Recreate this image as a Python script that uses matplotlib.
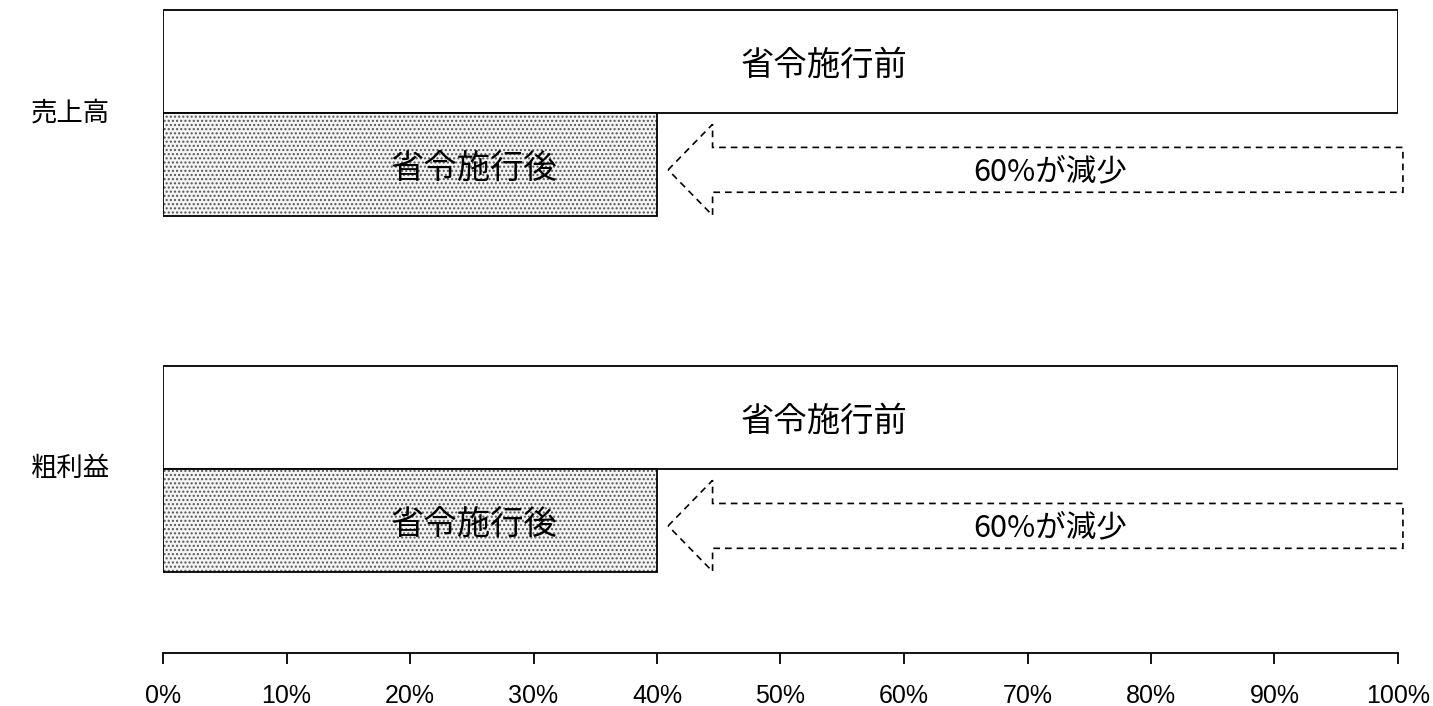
import matplotlib.pyplot as plt
from matplotlib.patches import Polygon
from matplotlib.ticker import FuncFormatter

plt.rcParams['font.family'] = ['Noto Sans CJK JP', 'DejaVu Sans']

categories = ["売上高", "粗利益"]
before = [100, 100]
after = [40, 40]
before_label = "省令施行前"
after_label = "省令施行後"
tick_values = list(range(0, 101, 10))

fig = plt.figure(figsize=(14.33, 7.06), dpi=100)
ax = fig.add_axes([163 / 1433, 53 / 706, 1235 / 1433, 653 / 706])

h = 0.29
ypos = list(range(len(categories)))

for y, cat, b, a in zip(ypos, categories, before, after):
    # before: plain white bar on top
    ax.barh(y - h / 2, b, height=h, color="white", edgecolor="black", linewidth=1.3)
    # after: stippled bar underneath
    ax.barh(y + h / 2, a, height=h, color="#f4f4f4", edgecolor="#555555",
            linewidth=0, hatch="....")
    ax.barh(y + h / 2, a, height=h, color="none", edgecolor="black", linewidth=1.3)

    ax.text(b * 0.535, y - h / 2 + 0.01, before_label, ha="center", va="center",
            fontsize=24)
    ax.text(a * 0.63, y + h / 2 + 0.01, after_label, ha="center", va="center",
            fontsize=24)

    # dashed block arrow from the old value back to the new one
    yc = y + h / 2 + 0.015
    tip = a + 0.9
    base = tip + 3.6
    sh, hh = 0.063, 0.128
    pts = [(tip, yc), (base, yc - hh), (base, yc - sh), (b + 0.4, yc - sh),
           (b + 0.4, yc + sh), (base, yc + sh), (base, yc + hh)]
    ax.add_patch(Polygon(pts, closed=True, fill=False, edgecolor="black",
                         linestyle=(0, (4, 3)), linewidth=1.2, clip_on=False))
    ax.text((a + b) / 2 + 1.8, yc + 0.005, f"{b - a}%が減少", ha="center",
            va="center", fontsize=22)

    ax.text(-7.5, y, cat, ha="center", va="center", fontsize=19)

ax.set_xlim(0, 100)
ax.set_ylim(len(categories) - 0.483, -0.317)
ax.set_xticks(tick_values)
ax.xaxis.set_major_formatter(FuncFormatter(lambda v, p: f"{v:.0f}%"))
ax.tick_params(axis="x", direction="out", length=8, width=1.3, pad=14)
for lab in ax.get_xticklabels():
    lab.set_family(["Liberation Sans", "DejaVu Sans"])
    lab.set_fontsize(18)
ax.set_yticks([])
for s in ["top", "right", "left"]:
    ax.spines[s].set_visible(False)
ax.spines["bottom"].set_linewidth(1.3)
ax.set_facecolor("none")

fig.savefig("out.png", dpi=100, facecolor="white")
